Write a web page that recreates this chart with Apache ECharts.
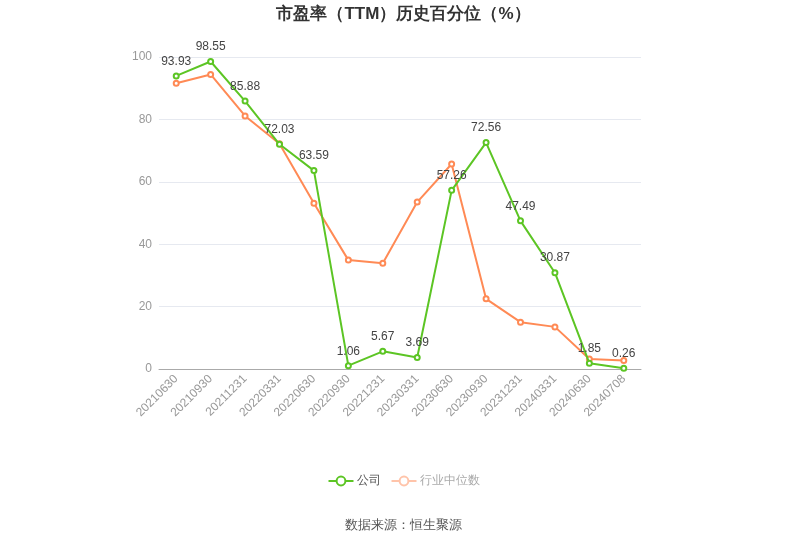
<!DOCTYPE html>
<html><head><meta charset="utf-8">
<script src="https://cdn.jsdelivr.net/npm/echarts@6/dist/echarts.min.js"></script>
<style>html,body{margin:0;padding:0;background:#fff}#c{width:807px;height:546px}</style>
</head><body><div id="c"></div>
<script>
const categories = ['20210630','20210930','20211231','20220331','20220630','20220930','20221231','20230331','20230630','20230930','20231231','20240331','20240630','20240708'];
const companyValues = [93.93,98.55,85.88,72.03,63.59,1.06,5.67,3.69,57.26,72.56,47.49,30.87,1.85,0.26];
const industryValues = [91.6,94.4,81.1,72.2,53.1,34.9,33.9,53.5,65.7,22.5,15.0,13.5,3.2,2.7];
const yTicks = [0,20,40,60,80,100];
const green = '#5cc524', orange = '#ff8a55';
const chart = echarts.init(document.getElementById('c'));
chart.setOption({
  animation:false,
  title:{text:'市盈率（TTM）历史百分位（%）',left:'center',top:1,textStyle:{fontSize:17,fontWeight:'bold',color:'#333'}},
  grid:{left:159,right:166,top:57,bottom:177},
  legend:{bottom:54,left:'center',itemWidth:25,itemHeight:11,itemGap:10,textStyle:{fontSize:11.5,color:'#555',padding:[0,0,0,-2]},
    data:[{name:'公司'},{name:'行业中位数',itemStyle:{color:'#ffc4aa',borderColor:'#ffc4aa',borderWidth:2},lineStyle:{color:'#ffc4aa'},textStyle:{color:'#aaa'}}]},
  graphic:[{type:'text',left:'center',top:519,style:{text:'数据来源：恒生聚源',fill:'#555',fontSize:13}}],
  xAxis:{type:'category',data:categories,boundaryGap:true,
    axisLine:{lineStyle:{color:'#aaa'}},axisTick:{alignWithLabel:true,lineStyle:{color:'#aaa'}},
    axisLabel:{rotate:45,color:'#999',fontSize:12,interval:0,margin:8}},
  yAxis:{type:'value',min:yTicks[0],max:yTicks[yTicks.length-1],interval:20,
    axisLabel:{color:'#999',fontSize:12,margin:7},splitLine:{lineStyle:{color:'#e6e9f0'}},axisLine:{show:false},axisTick:{show:false}},
  series:[
    {name:'公司',type:'line',data:companyValues,symbol:'emptyCircle',symbolSize:5,z:3,
      lineStyle:{color:green,width:2},itemStyle:{color:green},
      label:{show:true,position:'top',color:'#444',fontSize:12}},
    {name:'行业中位数',type:'line',data:industryValues,symbol:'emptyCircle',symbolSize:5,z:2,
      lineStyle:{color:orange,width:2},itemStyle:{color:orange}}
  ]
});
</script></body></html>
